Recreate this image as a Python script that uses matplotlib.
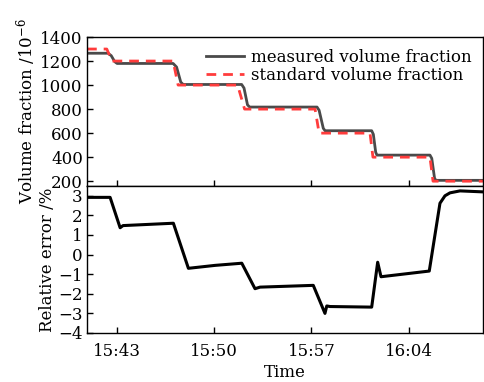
import matplotlib
matplotlib.use("Agg")
import matplotlib.pyplot as plt

# time axis in minutes after 15:00
time_ticks = [43, 50, 57, 64]
time_labels = ["15:43", "15:50", "15:57", "16:04"]

# measured volume fraction (breakpoints), 10^-6
t_meas = [40.86, 42.37, 42.60, 42.85, 43.02, 47.05, 47.30, 47.60, 47.77,
          51.98, 52.15, 52.40, 52.56, 57.40, 57.55, 57.85, 57.98,
          61.33, 61.45, 61.62, 61.71, 65.52, 65.65, 65.85, 65.95, 69.33]
v_meas = [1265, 1265, 1245, 1195, 1180, 1180, 1150, 1025, 1005,
          1005, 975, 835, 817, 817, 790, 640, 620,
          620, 590, 440, 417, 417, 390, 225, 207, 207]

# standard volume fraction
t_std = [40.86, 42.28, 42.66, 47.05, 47.41, 51.69, 52.19, 57.26, 57.55,
         61.21, 61.42, 65.52, 65.74, 69.33]
v_std = [1300, 1300, 1200, 1200, 1000, 1000, 800, 800, 600,
         600, 400, 400, 200, 200]

# relative error, %
t_err = [40.86, 42.52, 43.24, 43.45, 47.07, 48.15, 50.07, 51.99, 52.94, 53.30,
         57.13, 57.97, 58.10, 58.33, 61.33, 61.76, 62.00, 65.47, 66.24, 66.60,
         66.96, 67.68, 69.33]
rel_err = [2.92, 2.92, 1.37, 1.48, 1.60, -0.70, -0.55, -0.44, -1.74, -1.66,
           -1.57, -3.00, -2.62, -2.65, -2.68, -0.39, -1.13, -0.84, 2.62, 3.00,
           3.15, 3.25, 3.20]

plt.rcParams['font.family'] = ['DejaVu Serif']
plt.rcParams['mathtext.fontset'] = 'dejavuserif'
plt.rcParams['font.size'] = 12

fig = plt.figure(figsize=(4.84, 3.82), dpi=100)
ax1 = fig.add_axes([0.1798, 0.5131, 0.818, 0.390])
ax2 = fig.add_axes([0.1798, 0.1283, 0.818, 0.3848])

ax1.plot(t_meas, v_meas, color='#4a4a4a', lw=2.0, label='measured volume fraction')
ax1.plot(t_std, v_std, color='#ff3c3c', lw=2.0, dashes=(3.5, 2.5),
         label='standard volume fraction')
ax1.set_xlim(40.86, 69.33)
ax1.set_ylim(160, 1400)
ax1.set_yticks(range(200, 1401, 200))
ax1.set_xticks(time_ticks)
ax1.set_xticklabels([])
ax1.set_ylabel(r'Volume fraction /10$^{-6}$', labelpad=2)
ax1.legend(loc='upper right', frameon=False, handlelength=2.3, handletextpad=0.4,
           labelspacing=0.05, borderaxespad=0.3, fontsize=12)

ax2.plot(t_err, rel_err, color='black', lw=2.2)
ax2.set_xlim(40.86, 69.33)
ax2.set_ylim(-4, 3.5)
ax2.set_yticks(range(-4, 4))
ax2.set_xticks(time_ticks)
ax2.set_xticklabels(time_labels)
ax2.set_ylabel('Relative error /%', labelpad=2)
ax2.set_xlabel('Time', labelpad=3)

for ax in (ax1, ax2):
    ax.tick_params(direction='in', length=4, width=1, top=False, right=False, pad=3)
    for s in ax.spines.values():
        s.set_linewidth(1.0)
ax2.tick_params(axis='x', pad=7)

fig.savefig('out.png', dpi=100)
